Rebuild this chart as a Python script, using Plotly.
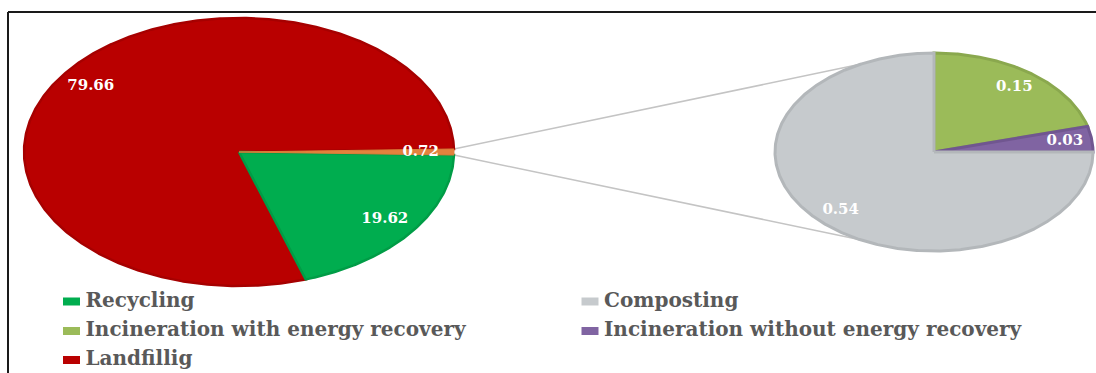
import numpy as np
import plotly.graph_objects as go

# ---------------- data ----------------
main_labels = ["Recycling", "Other", "Landfillig"]
main_values = [19.62, 0.72, 79.66]
sub_labels = ["Incineration with energy recovery", "Incineration without energy recovery", "Composting"]
sub_values = [0.15, 0.03, 0.54]
legend_order = ["Recycling", "Composting", "Incineration with energy recovery",
                "Incineration without energy recovery", "Landfillig"]

# ---------------- styles ----------------
fill = {
    "Recycling": "#00AD4F",
    "Other": "#E3823E",
    "Landfillig": "#B90000",
    "Composting": "#C6CACD",
    "Incineration with energy recovery": "#9BBB59",
    "Incineration without energy recovery": "#8064A2",
}
edge = {
    "Recycling": "#009C46",
    "Other": "#E07D38",
    "Landfillig": "#A60000",
    "Composting": "#B3B7BA",
    "Incineration with energy recovery": "#8AA84E",
    "Incineration without energy recovery": "#705690",
}

W, H = 1096, 373
# pie geometry (pixel-like data space)
L = dict(cx=239, cy=152, rx=215, ry=134)
R = dict(cx=934, cy=152, rx=159, ry=99)
LABEL_FRAC_L = 0.845
LABEL_FRAC_R = 0.83
# legend layout: two columns, row-major
LEG_COLS_X = [71.5, 590]
LEG_ROWS_Y = [301.5, 331, 360]
LEG_KEY_W, LEG_KEY_H = 17, 8
LEG_TEXT_DX = 14


def ellipse_pt(p, ang, frac=1.0):
    a = np.deg2rad(ang)
    return p["cx"] + frac * p["rx"] * np.cos(a), p["cy"] - frac * p["ry"] * np.sin(a)


def slice_poly(p, a0, a1):
    angs = np.linspace(a0, a1, max(8, int(abs(a1 - a0) * 2)))
    xs, ys = ellipse_pt(p, angs)
    return [p["cx"], *xs, p["cx"]], [p["cy"], *ys, p["cy"]]


def slices(values, start):
    tot = sum(values)
    out, a = [], start
    for v in values:
        span = v / tot * 360
        out.append((a, a - span))  # clockwise
        a -= span
    return out


fig = go.Figure()

# main pie: the "Other" slice is centred on the right horizontal
other_span = main_values[1] / sum(main_values) * 360
order_main = [1, 0, 2]  # Other, Recycling, Landfillig (clockwise)
vals_main = [main_values[i] for i in order_main]
main_sl = slices(vals_main, other_span / 2)
main_angles = {main_labels[i]: sl for i, sl in zip(order_main, main_sl)}

sub_sl = slices(sub_values, 90)
sub_angles = {lab: sl for lab, sl in zip(sub_labels, sub_sl)}

# connector lines
oa0, oa1 = main_angles["Other"]
for a_main, a_sub in [(oa0, 117.7), (oa1, 242.3)]:
    x0, y0 = ellipse_pt(L, a_main)
    x1, y1 = ellipse_pt(R, a_sub)
    fig.add_trace(go.Scatter(x=[x0, x1], y=[y0, y1], mode="lines",
                             line=dict(color="#C4C4C4", width=1.5),
                             showlegend=False, hoverinfo="skip"))

label_font = dict(family="DejaVu Serif", size=15, color="white", weight="bold")

# draw the thin "Other" slice last so it stays visible
for lab in ["Landfillig", "Recycling", "Other"]:
    a0, a1 = main_angles[lab]
    xs, ys = slice_poly(L, a0, a1)
    fig.add_trace(go.Scatter(x=xs, y=ys, mode="lines", fill="toself",
                             fillcolor=fill[lab],
                             line=dict(color=edge[lab], width=2.5 if lab != "Other" else 1),
                             showlegend=False, hoverinfo="skip"))

for lab, val in zip(sub_labels, sub_values):
    a0, a1 = sub_angles[lab]
    xs, ys = slice_poly(R, a0, a1)
    fig.add_trace(go.Scatter(x=xs, y=ys, mode="lines", fill="toself",
                             fillcolor=fill[lab], line=dict(color=edge[lab], width=3),
                             showlegend=False, hoverinfo="skip"))

# value labels
for lab, val in zip(main_labels, main_values):
    a0, a1 = main_angles[lab]
    x, y = ellipse_pt(L, (a0 + a1) / 2, LABEL_FRAC_L)
    fig.add_trace(go.Scatter(x=[x], y=[y], mode="text", text=[f"{val:.2f}"],
                             textfont=label_font, textposition="middle center",
                             showlegend=False, hoverinfo="skip"))
for lab, val in zip(sub_labels, sub_values):
    a0, a1 = sub_angles[lab]
    x, y = ellipse_pt(R, (a0 + a1) / 2, LABEL_FRAC_R)
    fig.add_trace(go.Scatter(x=[x], y=[y], mode="text", text=[f"{val:.2f}"],
                             textfont=label_font, textposition="middle center",
                             showlegend=False, hoverinfo="skip"))

# legend (two columns, row-major like the original)
shapes = [
    dict(type="line", xref="x", yref="y", x0=8, x1=W, y0=12, y1=12,
         line=dict(color="#1A1A1A", width=2), layer="above"),
    dict(type="line", xref="x", yref="y", x0=8, x1=8, y0=12, y1=H,
         line=dict(color="#1A1A1A", width=2), layer="above"),
]
for i, lab in enumerate(legend_order):
    cx = LEG_COLS_X[i % 2]
    cy = LEG_ROWS_Y[i // 2]
    shapes.append(dict(type="rect", xref="x", yref="y",
                       x0=cx - LEG_KEY_W / 2, x1=cx + LEG_KEY_W / 2,
                       y0=cy - LEG_KEY_H / 2, y1=cy + LEG_KEY_H / 2,
                       fillcolor=fill[lab], line=dict(width=0)))
    fig.add_trace(go.Scatter(x=[cx + LEG_TEXT_DX], y=[cy], mode="text",
                             text=[lab], textposition="middle right",
                             textfont=dict(family="DejaVu Serif", size=20, color="#595959", weight="bold"),
                             showlegend=False, hoverinfo="skip"))

fig.update_layout(
    width=W, height=H,
    margin=dict(l=0, r=0, t=0, b=0),
    paper_bgcolor="white", plot_bgcolor="white",
    showlegend=False,
    xaxis=dict(range=[0, W], visible=False, fixedrange=True),
    yaxis=dict(range=[H, 0], visible=False, fixedrange=True),
    shapes=shapes,
)

fig.write_html("out.html")
